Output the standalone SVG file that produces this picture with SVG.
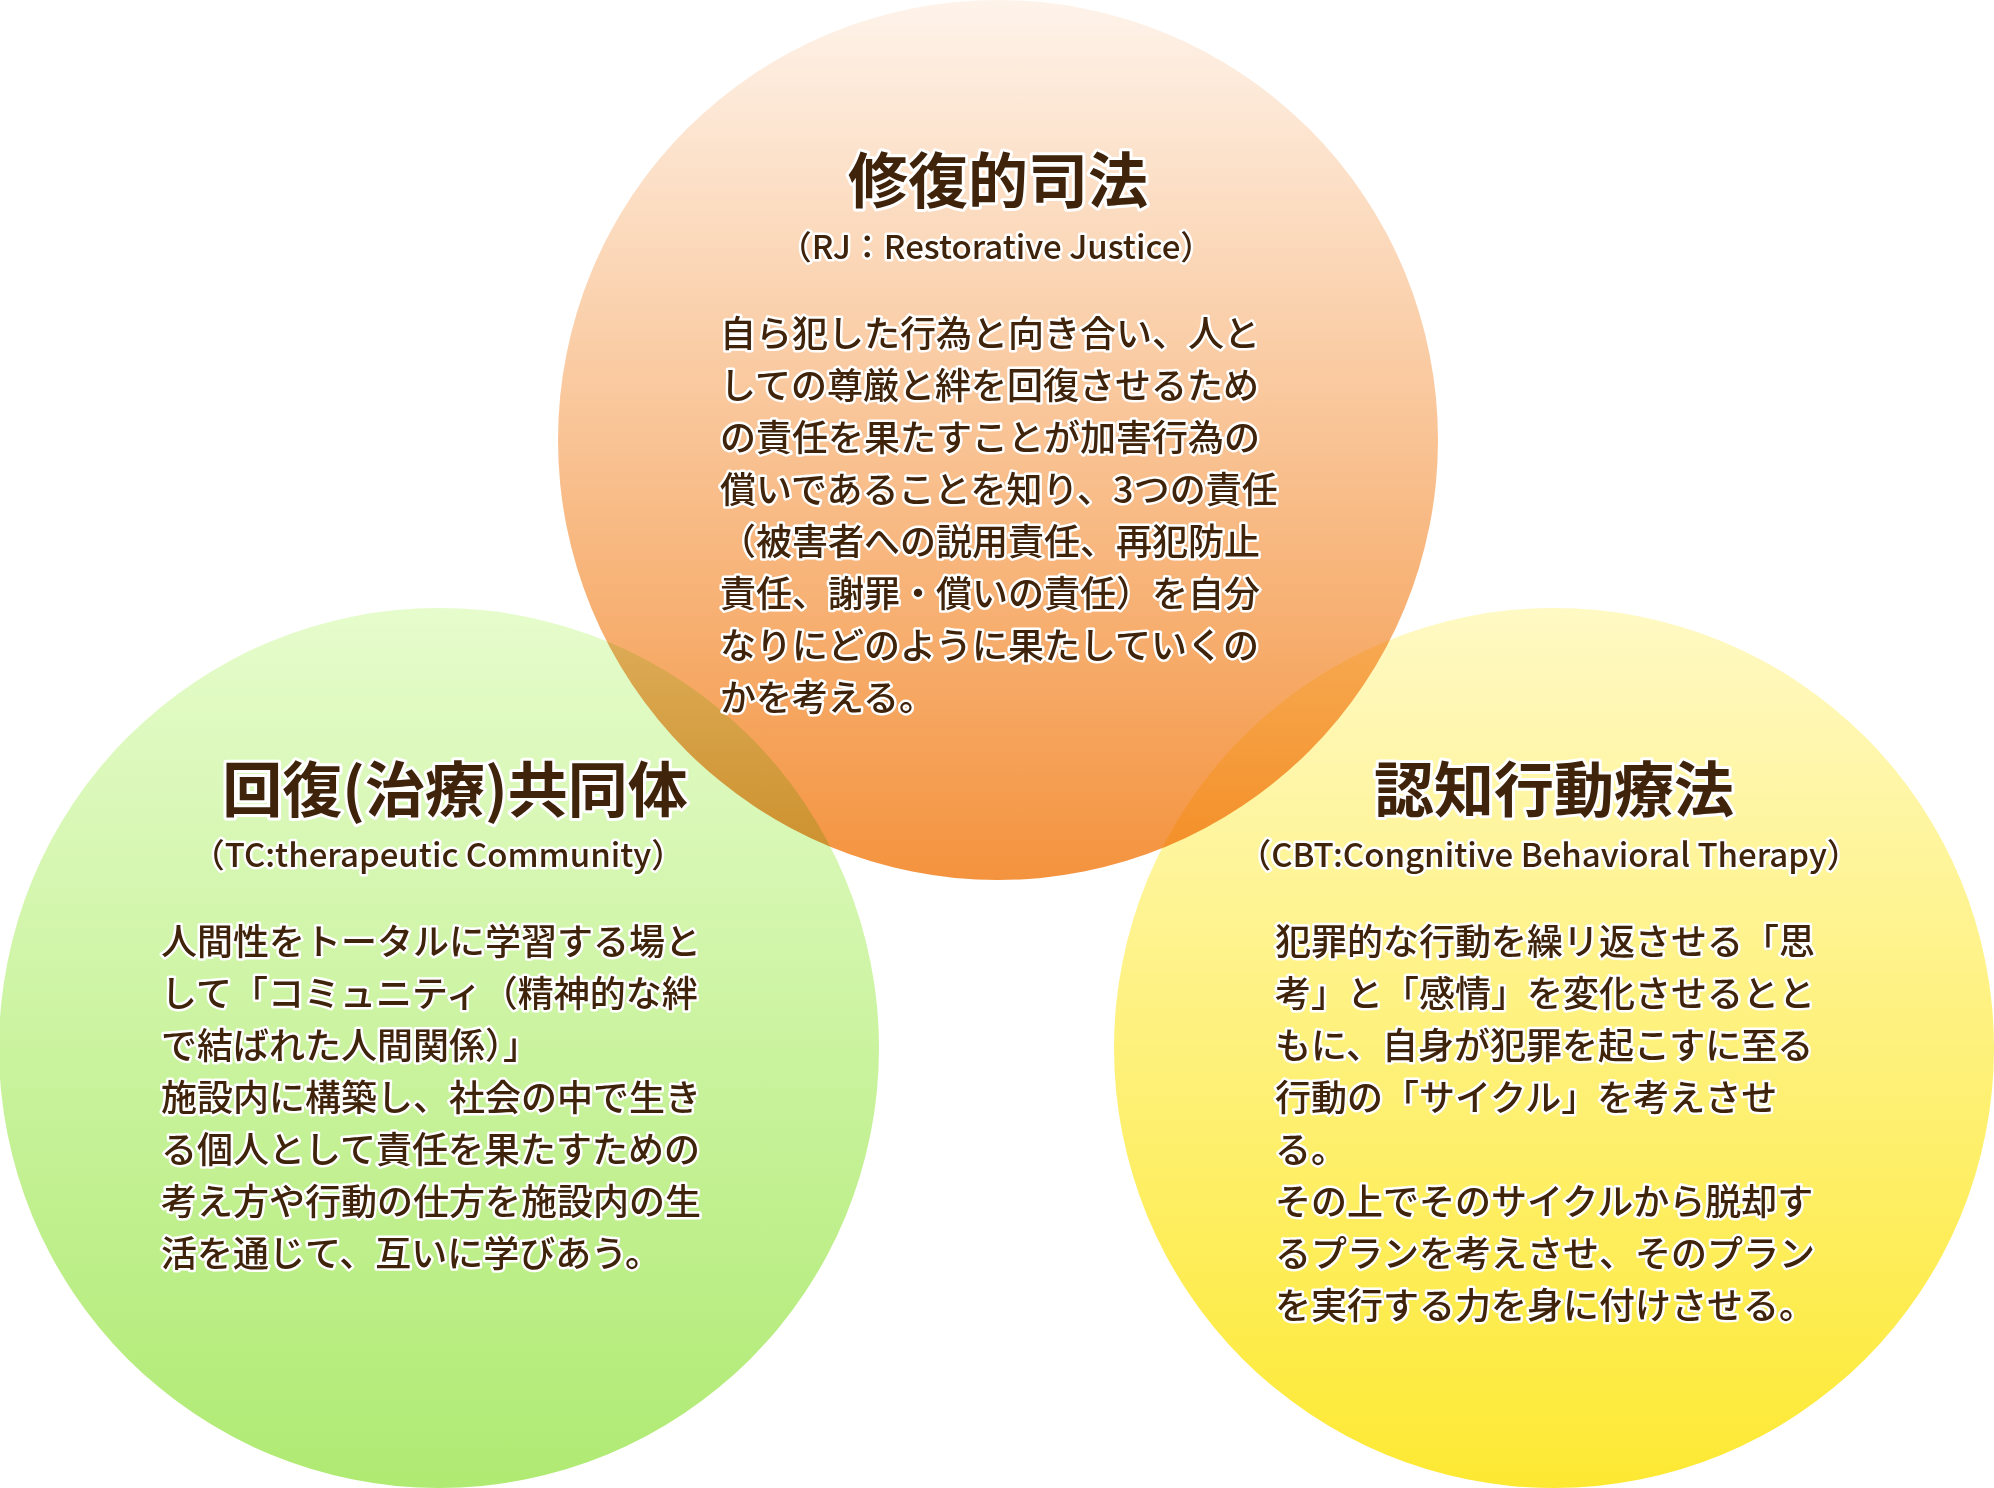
<svg xmlns="http://www.w3.org/2000/svg" width="1994" height="1488" viewBox="0 0 1994 1488">
<defs>
<linearGradient id="gOrange" x1="0" y1="0" x2="0" y2="1">
<stop offset="0" stop-color="#fef3ea"/>
<stop offset="1" stop-color="#f4933e"/>
</linearGradient>
<linearGradient id="gGreen" x1="0" y1="0" x2="0" y2="1">
<stop offset="0" stop-color="#e6fccc"/>
<stop offset="1" stop-color="#afea72"/>
</linearGradient>
<linearGradient id="gYellow" x1="0" y1="0" x2="0" y2="1">
<stop offset="0" stop-color="#fff9c4"/>
<stop offset="1" stop-color="#fde932"/>
</linearGradient>
</defs>
<style>
.t{font-family:"Noto Sans CJK JP","Noto Sans",sans-serif;fill:#3f230b;stroke:#ffffff;stroke-linejoin:round;paint-order:stroke fill}
.title{font-size:60px;font-weight:700;stroke-width:6px;text-anchor:middle}
.sub{font-size:33px;font-weight:500;stroke-width:5px;text-anchor:middle}
.body{font-size:36px;font-weight:500;stroke-width:5px}
.blend{mix-blend-mode:multiply}
</style>
<rect width="1994" height="1488" fill="#ffffff"/>
<g id="circles">
<circle id="c-rj" cx="998" cy="440" r="440" fill="url(#gOrange)"/>
<circle id="c-tc" class="blend" cx="439" cy="1048" r="440" fill="url(#gGreen)"/>
<circle id="c-cbt" class="blend" cx="1554" cy="1048" r="440" fill="url(#gYellow)"/>
</g>
<g id="node-rj">
<text class="t title" x="998" y="203">修復的司法</text>
<text class="t sub" x="996" y="259">（RJ：Restorative Justice）</text>
<text class="t body">
<tspan x="720" y="347">自ら犯した行為と向き合い、人と</tspan>
<tspan x="720" y="399">しての尊厳と絆を回復させるため</tspan>
<tspan x="720" y="451">の責任を果たすことが加害行為の</tspan>
<tspan x="720" y="503">償いであることを知り、3つの責任</tspan>
<tspan x="720" y="555">（被害者への説用責任、再犯防止</tspan>
<tspan x="720" y="607">責任、謝罪・償いの責任）を自分</tspan>
<tspan x="720" y="659">なりにどのように果たしていくの</tspan>
<tspan x="720" y="711">かを考える。</tspan>
</text>
</g>
<g id="node-tc">
<text class="t title" x="455" y="812">回復(治療)共同体</text>
<text class="t sub" x="438" y="867">（TC:therapeutic Community）</text>
<text class="t body">
<tspan x="161" y="955">人間性をトータルに学習する場と</tspan>
<tspan x="161" y="1007">して「コミュニティ（精神的な絆</tspan>
<tspan x="161" y="1059">で結ばれた人間関係）」</tspan>
<tspan x="161" y="1111">施設内に構築し、社会の中で生き</tspan>
<tspan x="161" y="1163">る個人として責任を果たすための</tspan>
<tspan x="161" y="1215">考え方や行動の仕方を施設内の生</tspan>
<tspan x="161" y="1267">活を通じて、互いに学びあう。</tspan>
</text>
</g>
<g id="node-cbt">
<text class="t title" x="1554" y="812">認知行動療法</text>
<text class="t sub" x="1549" y="867">（CBT:Congnitive Behavioral Therapy）</text>
<text class="t body">
<tspan x="1275" y="955">犯罪的な行動を繰リ返させる「思</tspan>
<tspan x="1275" y="1007">考」と「感情」を変化させるとと</tspan>
<tspan x="1275" y="1059">もに、自身が犯罪を起こすに至る</tspan>
<tspan x="1275" y="1111">行動の「サイクル」を考えさせ</tspan>
<tspan x="1275" y="1163">る。</tspan>
<tspan x="1275" y="1215">その上でそのサイクルから脱却す</tspan>
<tspan x="1275" y="1267">るプランを考えさせ、そのプラン</tspan>
<tspan x="1275" y="1319">を実行する力を身に付けさせる。</tspan>
</text>
</g>
<g id="connectors"/>
</svg>
